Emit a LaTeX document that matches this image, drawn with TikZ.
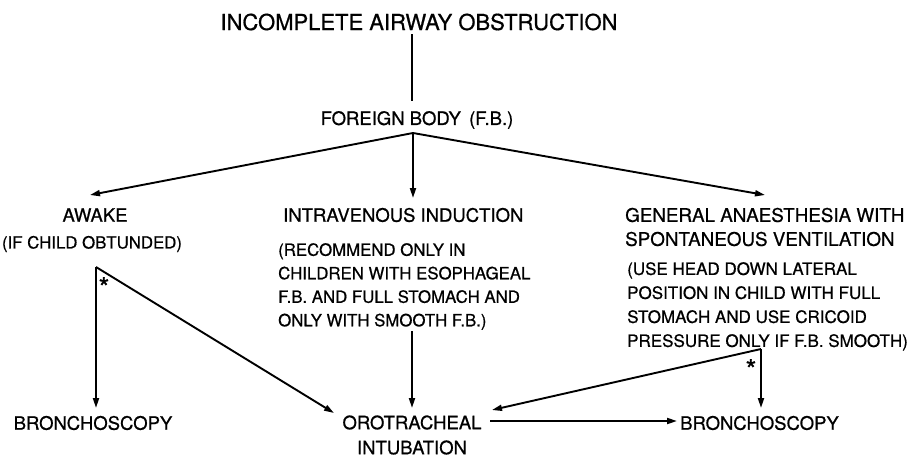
\documentclass[tikz,border=0pt]{standalone}
\usepackage{fontspec}
\setmainfont{TeX Gyre Heros}[FakeBold=0.7]
\usetikzlibrary{arrows.meta}
\begin{document}
\begin{tikzpicture}[x=1pt,y=-1pt,
  flow/.style={line width=1.9pt},
  arr/.style={flow,-{Triangle[length=10pt,width=6pt]}},
  head/.style={inner sep=0pt,font=\fontsize{18.5}{23}\selectfont},
  note/.style={inner sep=0pt,align=left,font=\fontsize{16.8}{23.5}\selectfont},
  star/.style={inner sep=0pt,font=\fontsize{28}{28}\selectfont}]
\useasboundingbox (0,0) rectangle (911,458);

% top of the tree
\node[inner sep=0pt,font=\fontsize{22}{26}\selectfont] (title) at (419,22) {INCOMPLETE AIRWAY OBSTRUCTION};
\node[head] (fb) at (417,120) {FOREIGN BODY \,(F.B.)};
\coordinate (titlefoot) at (412,34);
\coordinate (fbtop) at (412,101);
\coordinate (split) at (413,133);
\draw[flow] (titlefoot) -- (fbtop);

% three ways of proceeding
\node[head] (awake) at (95,215) {AWAKE};
\node[note] (awakenote) at (92,244) {(IF CHILD OBTUNDED)};
\node[head,anchor=west] (iv) at (283,215) {INTRAVENOUS INDUCTION};
\node[note,anchor=north west] (ivnote) at (278,243) {(RECOMMEND ONLY IN\\CHILDREN WITH ESOPHAGEAL\\F.B. AND FULL STOMACH AND\\ONLY WITH SMOOTH F.B.)};
\node[head,anchor=west,align=left,font=\fontsize{18.8}{24}\selectfont] (ga) at (625,227) {GENERAL ANAESTHESIA WITH\\SPONTANEOUS VENTILATION};
\node[note,anchor=north west,font=\fontsize{17}{24}\selectfont] (ganote) at (627,262) {(USE HEAD DOWN LATERAL\\POSITION IN CHILD WITH FULL\\STOMACH AND USE CRICOID\\PRESSURE ONLY IF F.B. SMOOTH)};

\coordinate (awaketip) at (90,195);
\coordinate (ivtip) at (413,198);
\coordinate (gatip) at (765,195);
\draw[arr] (split) -- (awaketip);
\draw[arr] (split) -- (ivtip);
\draw[arr] (split) -- (gatip);

% outcomes
\node[head] (bronchoL) at (93,423) {BRONCHOSCOPY};
\node[head,align=center,font=\fontsize{18.5}{25}\selectfont] (oro) at (412,435) {OROTRACHEAL\\INTUBATION};
\node[head,anchor=west] (bronchoR) at (680,423) {BRONCHOSCOPY};

\coordinate (apexL) at (96,267);
\coordinate (apexR) at (761,349);
\coordinate (ivfoot) at (412,331);
\coordinate (bronchoLtip) at (96,408);
\coordinate (oroLtip) at (334,413);
\coordinate (oroTtip) at (412,408);
\coordinate (oroRtip) at (492,410);
\coordinate (bronchoRtip) at (761,408);
\coordinate (orostart) at (490,421);
\coordinate (bronchoRin) at (677,421);
\node[star,anchor=north] at (104,277) {*};
\node[star,anchor=north] at (751,359) {*};

\draw[arr] (apexL) -- (bronchoLtip);
\draw[arr] (apexL) -- (oroLtip);
\draw[arr] (ivfoot) -- (oroTtip);
\draw[arr] (apexR) -- (bronchoRtip);
\draw[arr] (apexR) -- (oroRtip);
\draw[arr] (orostart) -- (bronchoRin);
\end{tikzpicture}
\end{document}
